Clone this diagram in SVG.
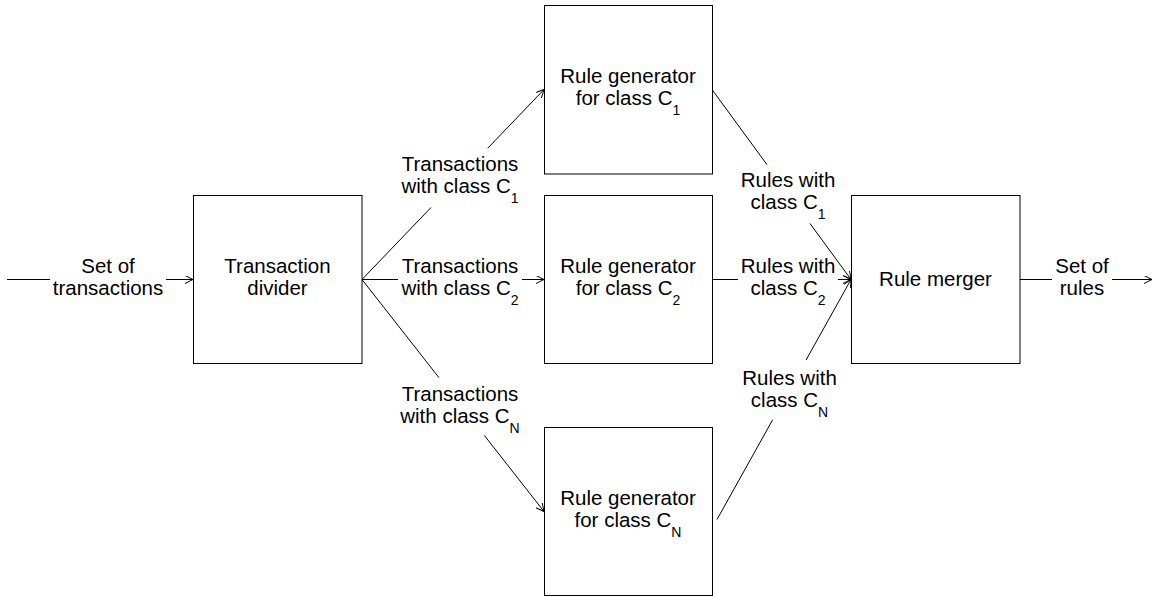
<svg xmlns="http://www.w3.org/2000/svg" width="1153" height="596" viewBox="0 0 1153 596">
<style>
.box{fill:#fff;stroke:#000;stroke-width:1}
.t{font-family:"Liberation Sans",Arial,sans-serif;font-size:20.5px;fill:#000;text-anchor:middle}
.sub{font-size:14px}
.c{fill:none;stroke:#000;stroke-width:1}
.a{marker-end:url(#arr)}
</style>
<defs>
<marker id="arr" markerUnits="userSpaceOnUse" markerWidth="10" markerHeight="10" refX="8" refY="4" orient="auto">
<path d="M0,0 L8,4 L0,8" fill="none" stroke="#000" stroke-width="1"/>
</marker>
</defs>
<rect width="1153" height="596" fill="#fff"/>
<g id="connectors">
<path class="c" d="M7,279.5 H50"/>
<path class="c a" d="M166,279.5 H193"/>
<path class="c" d="M362,279.5 L431,207.5"/>
<path class="c a" d="M487.7,148.3 L544,89.5"/>
<path class="c" d="M362,279.5 H398"/>
<path class="c a" d="M522,279.5 H544"/>
<path class="c" d="M362,279.5 L439,377.7"/>
<path class="c a" d="M484.3,435.4 L544,511.5"/>
<path class="c" d="M712,89.5 L767,164.7"/>
<path class="c a" d="M810,223.5 L851,279.5"/>
<path class="c" d="M712,279.5 H738"/>
<path class="c a" d="M838,279.5 H851"/>
<path class="c" d="M717,519.5 L772.7,419.7"/>
<path class="c a" d="M806,360.1 L851,279.5"/>
<path class="c" d="M1020,279.5 H1052"/>
<path class="c a" d="M1112,279.5 H1152"/>
</g>
<g id="divider">
<rect class="box" x="193.5" y="195.5" width="168.5" height="168"/>
<text class="t" x="277.5" y="273">Transaction</text>
<text class="t" x="277.5" y="295">divider</text>
</g>
<g id="gen1">
<rect class="box" x="544.5" y="5.5" width="168" height="168.5"/>
<text class="t" x="628" y="83">Rule generator</text>
<text class="t" x="628" y="105">for class C<tspan class="sub" dy="10">1</tspan></text>
</g>
<g id="gen2">
<rect class="box" x="544.5" y="195.5" width="168" height="168"/>
<text class="t" x="628" y="273">Rule generator</text>
<text class="t" x="628" y="295">for class C<tspan class="sub" dy="10">2</tspan></text>
</g>
<g id="genN">
<rect class="box" x="544.5" y="427.5" width="168" height="168"/>
<text class="t" x="628" y="505">Rule generator</text>
<text class="t" x="628" y="527">for class C<tspan class="sub" dy="10">N</tspan></text>
</g>
<g id="merger">
<rect class="box" x="851.5" y="195.5" width="168.5" height="168"/>
<text class="t" x="935.5" y="286">Rule merger</text>
</g>
<g id="labels">
<text class="t" x="108" y="273">Set of</text>
<text class="t" x="108" y="295">transactions</text>
<text class="t" x="460" y="170.5">Transactions</text>
<text class="t" x="460" y="192.5">with class C<tspan class="sub" dy="10">1</tspan></text>
<text class="t" x="460" y="273">Transactions</text>
<text class="t" x="460" y="295">with class C<tspan class="sub" dy="10">2</tspan></text>
<text class="t" x="460" y="400.5">Transactions</text>
<text class="t" x="460" y="422.5">with class C<tspan class="sub" dy="10">N</tspan></text>
<text class="t" x="788" y="187">Rules with</text>
<text class="t" x="788" y="209">class C<tspan class="sub" dy="10">1</tspan></text>
<text class="t" x="788" y="273">Rules with</text>
<text class="t" x="788" y="295">class C<tspan class="sub" dy="10">2</tspan></text>
<text class="t" x="789.5" y="385">Rules with</text>
<text class="t" x="789.5" y="407">class C<tspan class="sub" dy="10">N</tspan></text>
<text class="t" x="1082" y="273">Set of</text>
<text class="t" x="1082" y="295">rules</text>
</g>
</svg>
